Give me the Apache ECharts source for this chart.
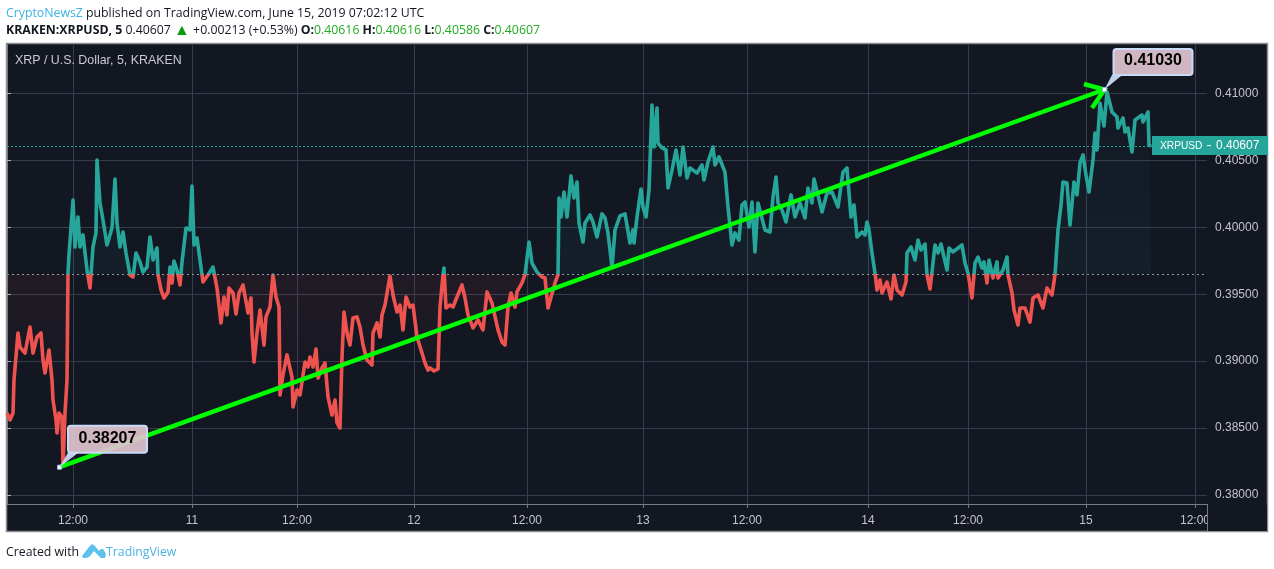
<!DOCTYPE html>
<html>
<head>
<meta charset="utf-8">
<style>html,body{margin:0;padding:0;background:#fff}#main{width:1274px;height:569px}</style>
<script src="https://cdn.jsdelivr.net/npm/echarts@6/dist/echarts.min.js"></script>
</head>
<body>
<div id="main"></div>
<script>
// x is a slot on the compressed time scale, the gaps in the feed make the days uneven
var closes = [[0,.38612],[3,.38560],[6,.38612],[7,.38859],[11,.39210],[13,.39105],[18,.39060],[23,.39255],[26,.39060],[30,.39180],
[34,.39210],[36,.39008],[38,.38911],[42,.39083],[45,.38859],[46,.38709],[49,.38560],[50,.38463],[52,.38612],[55,.38582],
[56,.38215],[58,.38612],[60,.38859],[61,.39659],[62,.39793],[66,.40204],[68,.39853],[71,.40077],[73,.39853],[76,.39943],
[80,.39681],[83,.39546],[86,.39853],[89,.39958],[90,.40503],[93,.40182],[96,.40055],[100,.39868],[105,.39995],[108,.40361],
[110,.40032],[113,.39853],[116,.39965],[119,.39808],[123,.39644],[126,.39629],[129,.39808],[133,.39741],[136,.39666],[140,.39703],
[143,.39928],[146,.39756],[150,.39845],[151,.39644],[154,.39532],[157,.39472],[161,.39517],[163,.39703],[165,.39584],[167,.39748],
[170,.39681],[173,.39569],[175,.39741],[179,.39995],[183,.39980],[185,.40309],[187,.39868],[190,.39920],[193,.39756],[196,.39591],
[201,.39644],[206,.39703],[210,.39546],[214,.39285],[217,.39479],[220,.39345],[222,.39546],[226,.39509],[229,.39352],[232,.39509],
[236,.39569],[241,.39360],[244,.39472],[245,.39210],[247,.38993],[250,.39210],[253,.39382],[257,.39120],[259,.39330],[263,.39404],
[266,.39644],[269,.39479],[272,.39404],[273,.38747],[276,.38896],[280,.39046],[285,.38881],[286,.38657],[290,.38784],[293,.38747],
[298,.38993],[301,.38956],[303,.39031],[306,.38956],[309,.39091],[311,.38874],[315,.38949],[318,.38986],[321,.38732],[325,.38597],
[328,.38709],[330,.38538],[333,.38500],[335,.39031],[337,.39367],[340,.39210],[343,.39120],[346,.39322],[350,.39330],[353,.39255],
[356,.39120],[360,.39008],[365,.38971],[366,.39210],[370,.39285],[373,.39180],[375,.39345],[378,.39419],[383,.39636],[386,.39494],
[390,.39367],[393,.39419],[396,.39233],[399,.39479],[403,.39404],[406,.39419],[410,.39180],[415,.39060],[418,.38986],[421,.38933],
[423,.38949],[427,.38926],[431,.38941],[433,.39404],[436,.39644],[437,.39696],[439,.39397],[443,.39419],[446,.39404],[450,.39479],
[455,.39569],[458,.39472],[461,.39345],[466,.39248],[471,.39307],[476,.39233],[480,.39517],[485,.39434],[491,.39233],[495,.39143],
[498,.39120],[501,.39404],[504,.39509],[508,.39404],[510,.39517],[515,.39584],[518,.39644],[522,.39890],[525,.39733],[530,.39666],
[535,.39629],[538,.39621],[541,.39397],[548,.39584],[551,.39644],[552,.40219],[554,.40077],[557,.40264],[560,.40077],[564,.40384],
[567,.40219],[570,.40339],[572,.40032],[576,.39890],[578,.40032],[583,.40092],[586,.40040],[590,.39928],[595,.40100],[598,.40070],
[601,.39958],[605,.39703],[608,.39980],[613,.40085],[618,.40100],[623,.39883],[626,.39980],[627,.39883],[630,.40077],[634,.40286],
[636,.40152],[639,.40077],[642,.40279],[645,.40914],[647,.40600],[650,.40892],[651,.40630],[655,.40593],[659,.40578],[661,.40294],
[665,.40428],[669,.40578],[673,.40391],[676,.40600],[680,.40369],[683,.40443],[690,.40406],[695,.40466],[697,.40354],[701,.40488],
[706,.40600],[708,.40466],[712,.40526],[718,.40413],[721,.40152],[725,.39868],[728,.39958],[732,.39905],[735,.40167],[738,.40189],
[742,.40002],[745,.40189],[748,.39816],[751,.40182],[758,.39980],[763,.39965],[766,.40227],[769,.40376],[771,.40182],[775,.40129],
[779,.40040],[784,.40242],[788,.40077],[793,.40182],[798,.40070],[801,.40294],[805,.40182],[807,.40361],[815,.40115],[820,.40257],
[825,.40264],[831,.40152],[836,.40413],[840,.40443],[844,.40077],[847,.40167],[850,.39928],[855,.39965],[858,.39943],[860,.40040],
[862,.39980],[865,.39808],[868,.39659],[870,.39532],[873,.39606],[875,.39509],[880,.39591],[884,.39464],[887,.39644],[890,.39532],
[895,.39494],[899,.39591],[900,.39808],[904,.39853],[908,.39756],[911,.39905],[914,.39830],[918,.39875],[920,.39644],[923,.39539],
[926,.39733],[928,.39868],[931,.39808],[934,.39875],[940,.39681],[942,.39845],[946,.39816],[955,.39868],[958,.39733],[961,.39659],
[965,.39472],[968,.39733],[971,.39778],[975,.39696],[977,.39741],[980,.39584],[982,.39756],[986,.39621],[990,.39741],[991,.39621],
[996,.39681],[1000,.39778],[1001,.39644],[1005,.39509],[1007,.39382],[1011,.39270],[1013,.39397],[1018,.39397],[1023,.39292],[1026,.39472],
[1031,.39494],[1036,.39397],[1040,.39546],[1045,.39494],[1048,.39644],[1051,.39980],[1054,.40167],[1056,.40339],[1060,.40331],[1063,.40017],
[1067,.40339],[1070,.40242],[1073,.40481],[1076,.40541],[1079,.40391],[1082,.40264],[1086,.40503],[1088,.40705],[1090,.40578],[1093,.40929],
[1097,.40757],[1100,.41011],[1105,.40862],[1110,.40825],[1111,.40742],[1116,.40817],[1118,.40712],[1121,.40742],[1125,.40563],[1128,.40802],
[1135,.40839],[1136,.40787],[1141,.40862],[1142,.40615],[1144,.40607]];

var basePrice = 0.39651;
var lastPrice = 0.40607;
var trend = [52.5, 0.38207, 1097.5, 0.41030];
var yTicks = [0.38, 0.385, 0.39, 0.395, 0.40, 0.405, 0.41];
var xTicks = [66, 185, 290, 407, 520, 636, 740, 861, 961, 1079, 1188];
var xLabels = ['12:00', '11', '12:00', '12', '12:00', '13', '12:00', '14', '12:00', '15', '12:00'];

var TEAL = '#26a69a', RED = '#ef5350';
var UI = '"Open Sans", sans-serif', AX = '"Liberation Sans", sans-serif';
var gridTop = 44, gridBottom = 504;

// fill fades out away from the base line, stops are canvas heights
function fillStop(y) { return (y - gridTop) / (gridBottom - gridTop); }
var areaFill = new echarts.graphic.LinearGradient(0, gridTop, 0, gridBottom, [
    { offset: 0, color: 'rgba(38,166,154,0)' },
    { offset: fillStop(150), color: 'rgba(38,166,154,0.03)' },
    { offset: fillStop(274), color: 'rgba(38,166,154,0.06)' },
    { offset: fillStop(274.01), color: 'rgba(239,83,80,0.07)' },
    { offset: fillStop(330), color: 'rgba(239,83,80,0.035)' },
    { offset: fillStop(400), color: 'rgba(239,83,80,0)' },
    { offset: 1, color: 'rgba(239,83,80,0)' }
], true);

function callout(p, text, dx0, dy0, w, h, tailX) {
    return [
        { type: 'polygon', z2: 20, shape: { points: [[p[0], p[1]], [p[0] + tailX, p[1] + dy0 + h - 1], [p[0] + tailX + 11, p[1] + dy0 + h - 1]] },
          style: { fill: '#c9daf8', opacity: 0.95 } },
        { type: 'rect', z2: 21, shape: { x: p[0] + dx0, y: p[1] + dy0, width: w, height: h, r: 3 },
          style: { fill: 'rgba(224,196,207,0.92)', stroke: '#c9daf8', lineWidth: 2 } },
        { type: 'text', z2: 22, x: p[0] + dx0 + w / 2, y: p[1] + dy0 + h / 2 - 1,
          style: { text: text, fill: '#000', font: 'bold 16px ' + AX, align: 'center', verticalAlign: 'middle' } },
        { type: 'rect', z2: 23, shape: { x: p[0] - 2, y: p[1] - 2, width: 4, height: 4 },
          style: { fill: '#fff', stroke: '#9db8e8', lineWidth: 1 } }
    ];
}

function renderTrend(params, api) {
    var a = api.coord([api.value(0), api.value(1)]);
    var b = api.coord([api.value(2), api.value(3)]);
    var green = { stroke: '#00ff00', lineWidth: 4.5, fill: null, lineCap: 'butt' };
    var kids = [
        { type: 'line', z2: 10, shape: { x1: a[0], y1: a[1], x2: b[0], y2: b[1] }, style: green },
        { type: 'polyline', z2: 10, shape: { points: [[b[0] - 20.5, b[1] - 5.5], [b[0], b[1]], [b[0] - 12.5, b[1] + 18.5]] }, style: green }
    ];
    kids = kids.concat(callout(a, api.value(1).toFixed(5), 8.5, -41.5, 79, 27, 9));
    kids = kids.concat(callout(b, api.value(3).toFixed(5), 9, -40.5, 79, 26, 8));
    return { type: 'group', children: kids };
}

function renderTag(params, api) {
    var p = api.coord([api.value(0), api.value(1)]);
    var right = params.coordSys.x + params.coordSys.width;
    return { type: 'group', children: [
        { type: 'rect', shape: { x: right - 55, y: p[1] - 10, width: 116, height: 19 }, style: { fill: TEAL } },
        { type: 'rect', shape: { x: right, y: p[1] - 1, width: 4, height: 1 }, style: { fill: '#fff' } },
        { type: 'text', x: right - 47, y: p[1], style: { text: 'XRPUSD', fill: '#fff', font: '10.2px ' + AX, verticalAlign: 'middle' } },
        { type: 'text', x: right + 9, y: p[1], style: { text: api.value(1).toFixed(5), fill: '#fff', font: '12px ' + AX, verticalAlign: 'middle' } }
    ] };
}

var myChart = echarts.init(document.getElementById('main'), null, { renderer: 'canvas' });

myChart.setOption({
    backgroundColor: '#fff',
    animation: false,
    title: [{
        left: 6, top: 7, padding: 0,
        text: '{u|CryptoNewsZ} published on TradingView.com, June 15, 2019 07:02:12 UTC',
        textStyle: { fontFamily: UI, fontSize: 12.3, fontWeight: 'normal', color: '#131722',
            rich: { u: { color: '#3bb3e4', fontFamily: UI, fontSize: 12.3 } } }
    }, {
        left: 6, top: 22, padding: 0,
        text: '{b|KRAKEN:XRPUSD, 5} 0.40607 {g|▲} +0.00213 (+0.53%) {b|O:}{n|0.40616} {b|H:}{n|0.40616} {b|L:}{n|0.40586} {b|C:}{n|0.40607}',
        textStyle: { fontFamily: UI, fontSize: 12.3, fontWeight: 'normal', color: '#131722',
            rich: {
                b: { fontWeight: 'bold', fontFamily: UI, fontSize: 12.3, color: '#131722' },
                g: { color: '#0b9a0b', fontFamily: UI, fontSize: 16 },
                n: { color: '#22ab22', fontFamily: UI, fontSize: 12.3 }
            } }
    }, {
        left: 15, top: 55, padding: 0,
        text: 'XRP / U.S. Dollar, 5, KRAKEN',
        textStyle: { fontFamily: AX, fontSize: 12.4, fontWeight: 'normal', color: '#c8cad0' }
    }],
    grid: { left: 7, right: 67, top: gridTop, bottom: 569 - gridBottom, containLabel: false },
    xAxis: {
        type: 'value', min: 0, max: 1200,
        axisLine: { show: true, onZero: false, lineStyle: { color: '#787b86' } },
        axisTick: { show: true, length: 4, lineStyle: { color: '#787b86' }, customValues: xTicks },
        axisLabel: {
            customValues: xTicks, color: '#c2c4cc', margin: 11,
            fontFamily: AX, fontSize: 12,
            formatter: function (v) { return xLabels[xTicks.indexOf(v)]; }
        },
        splitLine: { show: true, lineStyle: { color: '#363c4e', width: 1 } }
    },
    yAxis: {
        type: 'value', position: 'right', min: 0.37932, max: 0.41370, scale: true,
        axisLine: { show: true, lineStyle: { color: '#787b86' } },
        axisTick: { show: true, length: 4, lineStyle: { color: '#b2b5be' }, customValues: yTicks },
        axisLabel: {
            customValues: yTicks, color: '#c2c4cc', margin: 8,
            fontFamily: AX, fontSize: 12,
            formatter: function (v) { return v.toFixed(5); }
        },
        splitLine: { show: true, lineStyle: { color: '#363c4e', width: 1 } }
    },
    visualMap: {
        show: false, type: 'piecewise', seriesIndex: 0, dimension: 1,
        pieces: [{ min: 0.3, max: basePrice, color: RED }, { min: basePrice, max: 0.5, color: TEAL }]
    },
    series: [{
        type: 'line',
        data: closes,
        showSymbol: false,
        symbol: 'none',
        lineStyle: { width: 3.6, join: 'round' },
        areaStyle: { origin: basePrice, color: areaFill, opacity: 1 },
        silent: true,
        markLine: {
            silent: true, symbol: 'none', label: { show: false }, precision: 5,
            data: [
                { yAxis: basePrice, lineStyle: { color: '#9598a1', type: [2, 3], width: 1 } },
                { yAxis: lastPrice, lineStyle: { color: TEAL, type: [2, 2], width: 1 } }
            ]
        }
    }, {
        type: 'custom', renderItem: renderTag, data: [[1144, lastPrice]], clip: false, silent: true, z: 5
    }, {
        type: 'custom', renderItem: renderTrend, data: [trend], clip: false, silent: true, z: 6,
        encode: { x: [0, 2], y: [1, 3] }
    }],
    graphic: [
        { type: 'rect', z: -10, silent: true, shape: { x: 6.5, y: 43.5, width: 1261, height: 488 },
          style: { fill: '#131722', stroke: '#8c8e94', lineWidth: 1.5 } },
        { type: 'rect', z: 9, silent: true, shape: { x: 1208, y: 505, width: 59, height: 26 }, style: { fill: '#131722' } },
        { type: 'line', z: 9, silent: true, shape: { x1: 1207.5, y1: 504, x2: 1207.5, y2: 531 }, style: { stroke: '#787b86' } },
        { type: 'text', x: 6, y: 546, z: 10, style: { text: 'Created with', font: '12.3px ' + UI, fill: '#131722' } },
        { type: 'polygon', z: 10, silent: true,
          shape: { points: [[82,556],[89,547],[92,544],[95,546],[99,551],[101,549],[103,549],[106,554],[105,558],[101,558],[94,551],[89,557],[86,558],[83,558]] },
          style: { fill: '#5cc1ec' } },
        { type: 'text', x: 106, y: 546, z: 10, style: { text: 'TradingView', font: '12.3px ' + UI, fill: '#4db3e2' } }
    ]
});
</script>
</body>
</html>
